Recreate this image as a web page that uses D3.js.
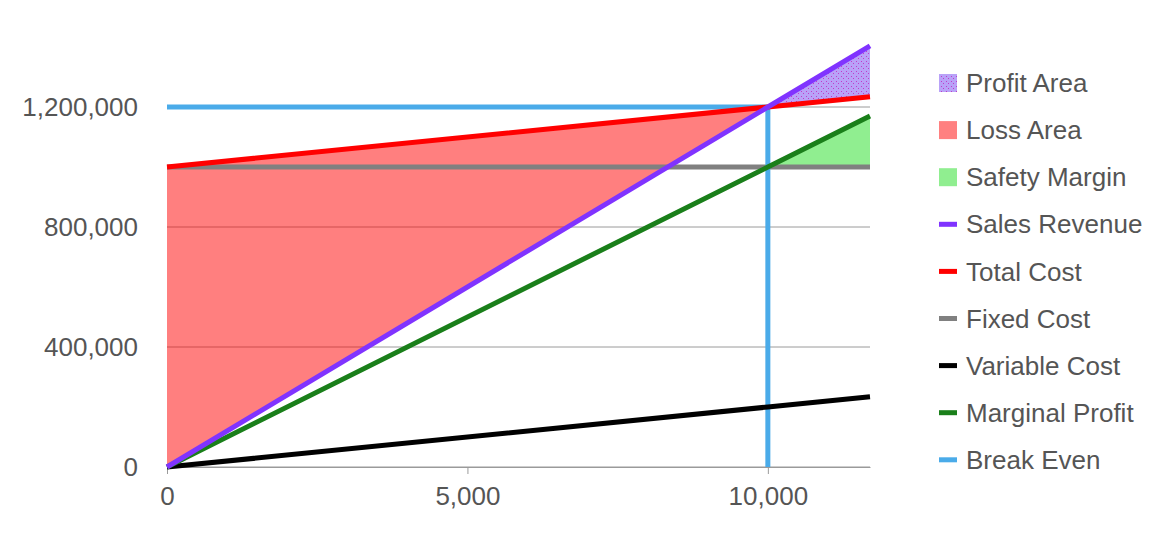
<!DOCTYPE html>
<html>
<head>
<meta charset="utf-8">
<script src="https://cdn.jsdelivr.net/npm/d3@7"></script>
<style>
  html, body { margin: 0; padding: 0; background: #fff; }
  svg { display: block; font-family: "Liberation Sans", Arial, Helvetica, sans-serif; }
</style>
</head>
<body>
<svg id="chart" width="1170" height="550"></svg>
<script>
// ---- data ----
const units          = [0, 10000, 11700];
const salesRevenue   = [0, 1200000, 1404000];
const totalCost      = [1000000, 1200000, 1234000];
const fixedCost      = [1000000, 1000000, 1000000];
const variableCost   = [0, 200000, 234000];
const marginalProfit = [0, 1000000, 1170000];
const breakEvenX     = [0, 10000, 10000];
const breakEvenY     = [1200000, 1200000, 0];
const xTicks = [0, 5000, 10000];
const yTicks = [0, 400000, 800000, 1200000];
const legendLabels = ["Profit Area", "Loss Area", "Safety Margin", "Sales Revenue", "Total Cost",
                      "Fixed Cost", "Variable Cost", "Marginal Profit", "Break Even"];

const svg = d3.select("#chart");
const x = d3.scaleLinear().domain([0, 11700]).range([167, 870]);
const y = d3.scaleLinear().domain([0, 1400000]).range([467, 47]);
const FS = 26;

const defs = svg.append("defs");
const pat = defs.append("pattern").attr("id", "dots").attr("patternUnits", "userSpaceOnUse")
  .attr("width", 5).attr("height", 5);
pat.append("rect").attr("width", 5).attr("height", 5).attr("fill", "#b9a2f8");
pat.append("rect").attr("x", 1).attr("y", 1).attr("width", 1).attr("height", 1).attr("fill", "#c03cc8");
pat.append("rect").attr("x", 3).attr("y", 3).attr("width", 1).attr("height", 1).attr("fill", "#c03cc8");

// gridlines
svg.append("g").selectAll("line").data(yTicks).join("line")
  .attr("x1", x(0)).attr("x2", x(11700))
  .attr("y1", d => y(d)).attr("y2", d => y(d))
  .attr("stroke", "#9a9a9a").attr("stroke-width", 1);

// areas
const lossIdx = [0, 1];
const profIdx = [1, 2];
const area = (top, bot) => d3.area().x(i => x(units[i])).y0(i => y(bot[i])).y1(i => y(top[i]));
svg.append("path").datum(lossIdx).attr("d", area(totalCost, salesRevenue))
  .attr("fill", "rgba(255,0,0,0.5)");
svg.append("path").datum(profIdx).attr("d", area(marginalProfit, fixedCost))
  .attr("fill", "#90ee90");
svg.append("path").datum(profIdx).attr("d", area(salesRevenue, totalCost))
  .attr("fill", "url(#dots)");

// x axis
const xAxis = svg.append("g").attr("transform", `translate(0,${y(0)})`)
  .call(d3.axisBottom(x).tickValues(xTicks).tickFormat(d3.format(",")).tickSize(7).tickSizeOuter(0).tickPadding(13));
xAxis.select(".domain").attr("stroke", "#9a9a9a");
xAxis.selectAll(".tick line").attr("stroke", "#9a9a9a");
xAxis.selectAll("text").attr("font-size", FS).attr("fill", "#555").attr("font-family", "Liberation Sans, Arial, sans-serif");

// y labels
const yAxis = svg.append("g").attr("transform", `translate(${x(0)},0)`)
  .call(d3.axisLeft(y).tickValues(yTicks).tickFormat(d3.format(",")).tickSize(0).tickPadding(29));
yAxis.select(".domain").remove();
yAxis.selectAll("text").attr("font-size", FS).attr("fill", "#555").attr("font-family", "Liberation Sans, Arial, sans-serif");

// lines
const line = (ys, xs = units) => d3.line().x((d, i) => x(xs[i])).y((d, i) => y(ys[i]))(ys);
function drawLine(ys, color, xs) {
  svg.append("path").attr("d", line(ys, xs)).attr("fill", "none")
    .attr("stroke", color).attr("stroke-width", 5);
}
const colors = {
  rev: "#8033ff", tc: "#ff0000", fc: "#808080", vc: "#000000", mp: "#1a7f1a", be: "#4aabe9"
};
drawLine(fixedCost, colors.fc);
drawLine(breakEvenY, colors.be, breakEvenX);
drawLine(totalCost, colors.tc);
drawLine(variableCost, colors.vc);
drawLine(marginalProfit, colors.mp);
drawLine(salesRevenue, colors.rev);

// legend
const legendFills = ["url(#dots)", "#ff8080", "#90ee90", colors.rev, colors.tc, colors.fc, colors.vc, colors.mp, colors.be];
const lg = svg.append("g");
legendLabels.forEach((lab, i) => {
  const cy = 83 + i * 47.1;
  if (i < 3) {
    lg.append("rect").attr("x", 939).attr("y", cy - 9).attr("width", 18).attr("height", 18)
      .attr("fill", legendFills[i]);
  } else {
    lg.append("rect").attr("x", 939).attr("y", cy - 2.5).attr("width", 18).attr("height", 5)
      .attr("fill", legendFills[i]);
  }
  lg.append("text").attr("x", 966).attr("y", cy).attr("dy", "0.35em")
    .attr("font-size", FS).attr("fill", "#555").text(lab);
});
</script>
</body>
</html>
